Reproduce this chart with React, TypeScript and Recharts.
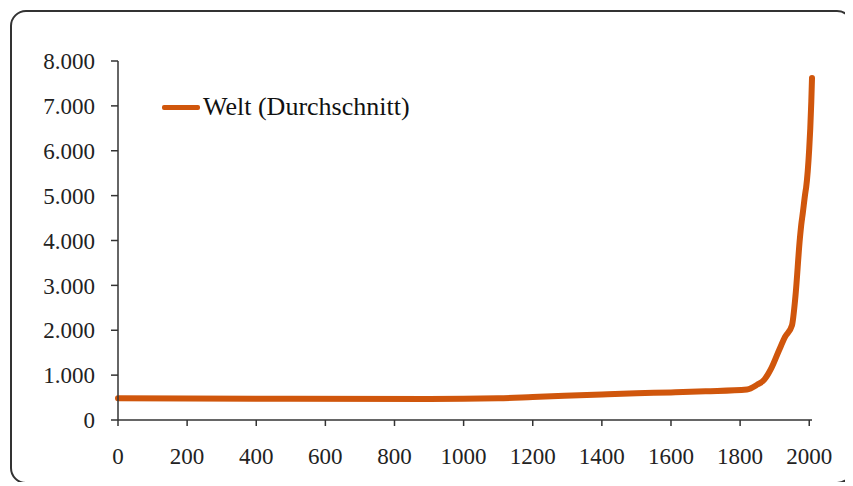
import { LineChart, Line, XAxis, YAxis, Legend } from "recharts";

// world average
const years = [0, 500, 900, 1100, 1200, 1400, 1500, 1600, 1700, 1820, 1850, 1870, 1890, 1913, 1930, 1950, 1960, 1973, 1978, 1980, 1989, 1991, 2000, 2003, 2006, 2008];
const values = [485, 472, 466, 482, 510, 570, 595, 615, 640, 680, 790, 900, 1150, 1560, 1850, 2110, 2750, 4050, 4420, 4530, 5080, 5180, 6050, 6500, 7100, 7620];

const xTicks = [0, 200, 400, 600, 800, 1000, 1200, 1400, 1600, 1800, 2000];
const yTicks = [0, 1000, 2000, 3000, 4000, 5000, 6000, 7000, 8000];

const seriesName = "Welt (Durchschnitt)";
const lineColor = "#D0560C";
const axisColor = "#333";
const serif = "'Liberation Serif', 'Times New Roman', serif";

const data = years.map((year, i) => ({ year, value: values[i] }));

function formatThousands(v: number) {
  return String(v).replace(/\B(?=(\d{3})+(?!\d))/g, ".");
}

function LegendBox() {
  return (
    <div style={{ display: "flex", alignItems: "center", fontFamily: serif, fontSize: 26, color: "#111" }}>
      <span style={{ display: "inline-block", width: 38, height: 5, background: lineColor, borderRadius: 2, marginRight: 3 }} />
      <span>{seriesName}</span>
    </div>
  );
}

export default function App() {
  return (
    <div
      style={{
        position: "relative",
        left: 2,
        top: 2,
        width: 843,
        height: 474,
        boxSizing: "border-box",
        border: `2px solid ${axisColor}`,
        borderRadius: 16,
        background: "#fff",
      }}
    >
      <LineChart width={839} height={470} data={data} margin={{ top: 49, right: 39, left: 0, bottom: 2 }}>
        <XAxis
          dataKey="year"
          type="number"
          domain={[0, "dataMax"]}
          ticks={xTicks}
          interval={0}
          stroke={axisColor}
          strokeWidth={1.5}
          tickSize={6}
          tickMargin={22}
          height={60}
          tick={{ fontSize: 23, fill: "#222", fontFamily: serif }}
        />
        <YAxis
          type="number"
          domain={[0, 8000]}
          ticks={yTicks}
          interval={0}
          width={106}
          stroke={axisColor}
          strokeWidth={1.5}
          tickSize={7}
          tickMargin={16}
          tickFormatter={formatThousands}
          tick={{ fontSize: 23, fill: "#222", fontFamily: serif }}
        />
        <Legend
          layout="vertical"
          align="center"
          verticalAlign="middle"
          wrapperStyle={{ top: 80, left: 150, width: "auto" }}
          content={() => <LegendBox />}
        />
        <Line
          type="monotone"
          dataKey="value"
          name={seriesName}
          stroke={lineColor}
          strokeWidth={6}
          strokeLinejoin="round"
          strokeLinecap="round"
          dot={false}
          isAnimationActive={false}
        />
      </LineChart>
    </div>
  );
}
